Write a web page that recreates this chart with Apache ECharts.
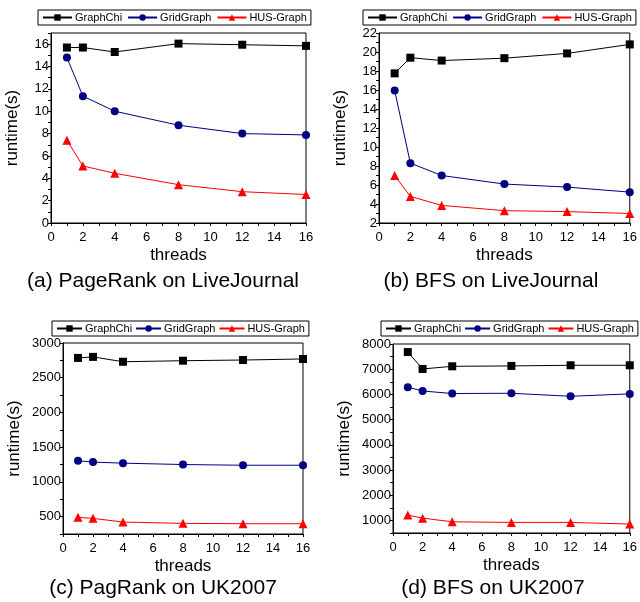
<!DOCTYPE html>
<html>
<head>
<meta charset="utf-8">
<script src="https://cdn.jsdelivr.net/npm/echarts@6/dist/echarts.min.js"></script>
<style>
  html, body { margin: 0; padding: 0; background: #fff; }
  #main { width: 640px; height: 602px; }
</style>
</head>
<body>
<div id="main"></div>
<script type="text/javascript">
    var threads = [1, 2, 4, 8, 12, 16];
    var seriesNames = ['GraphChi', 'GridGraph', 'HUS-Graph'];

    // (a) PageRank on LiveJournal
    var prLjChi = [15.7, 15.7, 15.3, 16.05, 15.95, 15.85];
    var prLjGrid = [14.8, 11.35, 10.0, 8.75, 8.0, 7.88];
    var prLjHus = [7.4, 5.1, 4.45, 3.43, 2.8, 2.55];
    // (b) BFS on LiveJournal
    var bfsLjChi = [17.75, 19.4, 19.1, 19.35, 19.85, 20.8];
    var bfsLjGrid = [15.95, 8.3, 7.0, 6.1, 5.78, 5.25];
    var bfsLjHus = [7.0, 4.8, 3.85, 3.3, 3.2, 3.0];
    // (c) PagRank on UK2007
    var prUkChi = [2785, 2800, 2730, 2745, 2755, 2770];
    var prUkGrid = [1305, 1285, 1270, 1250, 1240, 1240];
    var prUkHus = [490, 475, 422, 403, 398, 398];
    // (d) BFS on UK2007
    var bfsUkChi = [7680, 7010, 7115, 7130, 7155, 7155];
    var bfsUkGrid = [6285, 6135, 6035, 6045, 5925, 6020];
    var bfsUkHus = [1210, 1090, 945, 920, 920, 855];

    var captions = ['(a) PageRank on LiveJournal', '(b) BFS on LiveJournal',
                    '(c) PagRank on UK2007', '(d) BFS on UK2007'];

    var font = 'Liberation Sans, Arial, sans-serif';
    var colors = ['#000000', '#000080', '#ff0000'];
    var symbols = ['rect', 'circle', 'triangle'];
    var symbolSizes = [8, 8, 9];

    // panel layout: grid boxes in pixels; y = [min, max, tick step, label step]
    var panels = [
        {grid: {left: 51, top: 33, width: 255, height: 190}, y: [0, 17, 1, 2], data: [prLjChi, prLjGrid, prLjHus],
         legend: {left: 38, top: 10, itemWidth: 29, itemGap: 5}, cap: [163, 281], nameGap: 30},
        {grid: {left: 379, top: 33, width: 251, height: 190}, y: [2, 22, 1, 2], data: [bfsLjChi, bfsLjGrid, bfsLjHus],
         legend: {left: 363, top: 10, itemWidth: 29, itemGap: 5}, cap: [491, 281], nameGap: 30},
        {grid: {left: 63, top: 343, width: 240, height: 191}, y: [250, 3000, 250, 500], data: [prUkChi, prUkGrid, prUkHus],
         legend: {left: 52, top: 321, itemWidth: 25, itemGap: 3}, cap: [163, 588], nameGap: 40},
        {grid: {left: 393, top: 344, width: 242, height: 189}, y: [500, 8000, 500, 1000], data: [bfsUkChi, bfsUkGrid, bfsUkHus],
         legend: {left: 381, top: 321, itemWidth: 25, itemGap: 3}, cap: [493, 588], nameGap: 40}
    ];

    function pairs(vals) {
        return threads.map(function (t, i) { return [t, vals[i]]; });
    }

    var grids = [], xAxes = [], yAxes = [], series = [], legends = [], graphics = [];

    panels.forEach(function (p, k) {
        grids.push({
            left: p.grid.left, top: p.grid.top, width: p.grid.width, height: p.grid.height,
            show: true, borderColor: '#000', borderWidth: 1, backgroundColor: 'transparent'
        });
        xAxes.push({
            type: 'value', gridIndex: k, min: 0, max: 16, interval: 1,
            name: 'threads', nameLocation: 'middle', nameGap: 24,
            nameTextStyle: {fontFamily: font, fontSize: 17, color: '#000'},
            axisLine: {lineStyle: {color: '#000', width: 1}},
            axisTick: {show: true, inside: false, length: 3, lineStyle: {color: '#000'}},
            axisLabel: {
                fontFamily: font, fontSize: 13, color: '#000', margin: 8,
                formatter: function (v) { return (v % 2 === 0) ? String(v) : ''; }
            },
            splitLine: {show: false}
        });
        yAxes.push({
            type: 'value', gridIndex: k, min: p.y[0], max: p.y[1], interval: p.y[2],
            name: 'runtime(s)', nameLocation: 'middle', nameGap: p.nameGap,
            nameTextStyle: {fontFamily: font, fontSize: 17, color: '#000'},
            axisLine: {lineStyle: {color: '#000', width: 1}},
            axisTick: {show: true, inside: false, length: 3, lineStyle: {color: '#000'}},
            axisLabel: {
                fontFamily: font, fontSize: 13, color: '#000', margin: 2,
                formatter: function (v) { return (v % p.y[3] === 0) ? String(v) : ''; }
            },
            splitLine: {show: false}
        });
        p.data.forEach(function (vals, s) {
            series.push({
                name: seriesNames[s], type: 'line', xAxisIndex: k, yAxisIndex: k,
                data: pairs(vals),
                symbol: symbols[s], symbolSize: symbolSizes[s],
                itemStyle: {color: colors[s]},
                lineStyle: {color: colors[s], width: 1},
                animation: false
            });
        });
        legends.push({
            data: seriesNames, left: p.legend.left, top: p.legend.top, width: 400,
            orient: 'horizontal', borderColor: '#000', borderWidth: 1, borderRadius: 0,
            padding: [2, 4], itemGap: p.legend.itemGap, itemWidth: p.legend.itemWidth, itemHeight: 8,
            textStyle: {fontFamily: font, fontSize: 11, color: '#000', padding: [0, 0, 0, -2]}
        });
        graphics.push({
            type: 'text', x: p.cap[0], y: p.cap[1],
            style: {text: captions[k], font: '21px ' + font, fill: '#000',
                    textAlign: 'center', textVerticalAlign: 'middle'}
        });
    });

    var myChart = echarts.init(document.getElementById('main'));
    var option = {
        backgroundColor: '#fff',
        animation: false,
        grid: grids,
        xAxis: xAxes,
        yAxis: yAxes,
        legend: legends,
        series: series,
        graphic: graphics
    };
    myChart.setOption(option);
</script>
</body>
</html>
